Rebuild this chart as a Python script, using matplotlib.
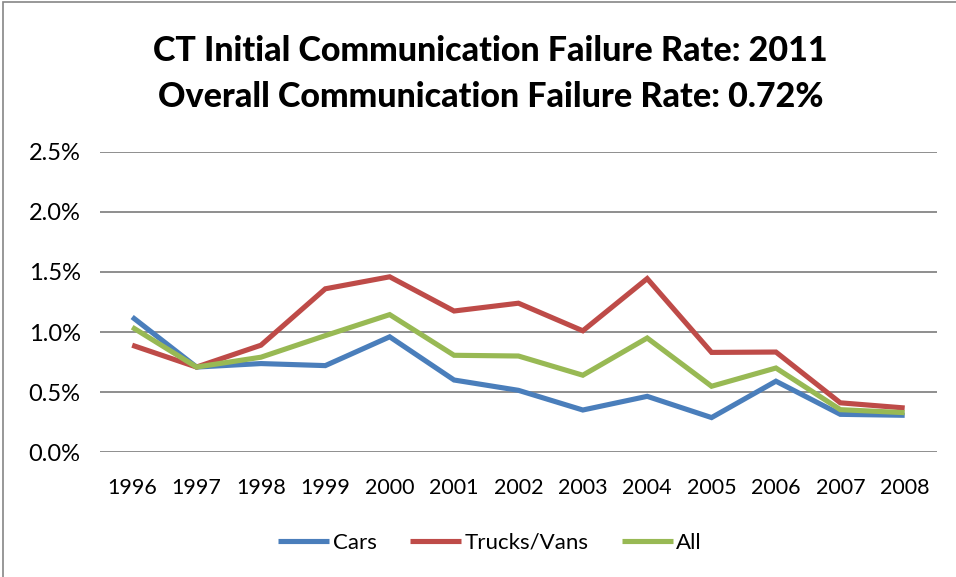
"""CT initial communication failure rate by model year (2011)."""

import matplotlib

matplotlib.use("Agg")
import matplotlib.pyplot as plt
from matplotlib.patches import Rectangle
from matplotlib.ticker import FuncFormatter

YEARS = ["1996", "1997", "1998", "1999", "2000", "2001", "2002",
         "2003", "2004", "2005", "2006", "2007", "2008"]
CARS = [1.125, 0.708, 0.737, 0.72, 0.96, 0.60, 0.514, 0.35, 0.464,
        0.287, 0.59, 0.314, 0.306]
TRUCKS = [0.89, 0.708, 0.89, 1.36, 1.46, 1.175, 1.24, 1.01, 1.445,
          0.83, 0.833, 0.41, 0.367]
ALL = [1.04, 0.708, 0.79, 0.97, 1.145, 0.806, 0.80, 0.64, 0.95,
       0.548, 0.70, 0.353, 0.328]

SERIES = [
    ("Cars", CARS, "#4a7ebb"),
    ("Trucks/Vans", TRUCKS, "#be4b48"),
    ("All", ALL, "#98b954"),
]

plt.rcParams["font.family"] = ["Lato", "DejaVu Sans"]

fig = plt.figure(figsize=(9.56, 5.77), dpi=100)
ax = fig.add_axes([0.1046, 0.2166, 0.8754, 0.52])

x = range(len(YEARS))
for name, vals, color in SERIES:
    ax.plot(x, vals, color=color, linewidth=3.7, label=name,
            solid_joinstyle="miter", solid_capstyle="butt")

ax.set_xlim(-0.5, len(YEARS) - 0.5)
ax.set_ylim(0, 2.5)
ax.set_yticks([0, 0.5, 1.0, 1.5, 2.0, 2.5])
ax.yaxis.set_major_formatter(FuncFormatter(lambda v, _: f"{v:.1f}%"))
ax.set_xticks(list(x))
ax.set_xticklabels(YEARS)
ax.tick_params(length=0, colors="black")
ax.tick_params(axis="y", pad=14, labelsize=17)
ax.tick_params(axis="x", pad=19, labelsize=15.5)
ax.grid(axis="y", color="#868686", linewidth=1.3)
ax.set_axisbelow(True)
for s in ax.spines.values():
    s.set_visible(False)

fig.text(0.513, 0.912, "CT Initial Communication Failure Rate: 2011",
         ha="center", va="center", fontsize=24.5, fontweight="black")
fig.text(0.513, 0.832, "Overall Communication Failure Rate: 0.72%",
         ha="center", va="center", fontsize=24.5, fontweight="black")

ax.legend(loc="center", bbox_to_anchor=(0.466, -0.303), ncol=3,
          frameon=False, fontsize=16, handlelength=2.3,
          handletextpad=0.15, columnspacing=1.5)

fig.patches.append(Rectangle((0.003, -0.01), 1.2, 1.0065,
                             transform=fig.transFigure, fill=False,
                             edgecolor="#868686", linewidth=1.2))

fig.savefig("out.png", dpi=100)
